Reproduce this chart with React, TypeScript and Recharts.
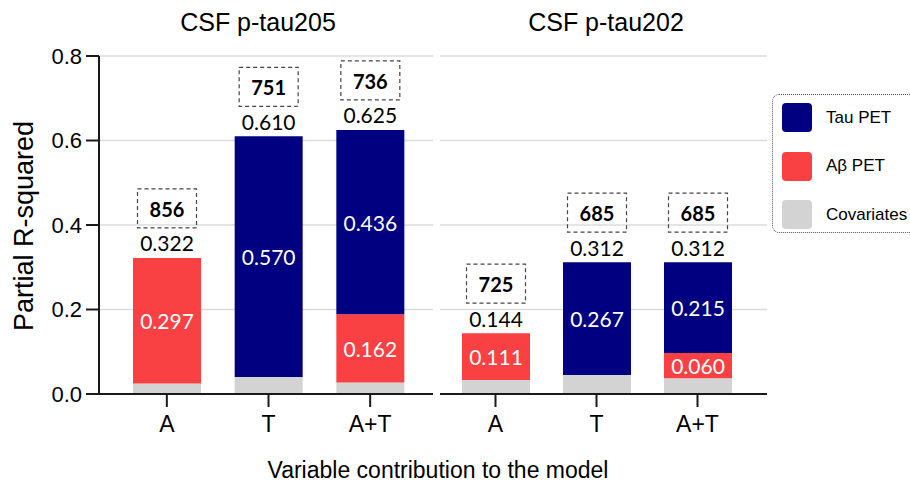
import React from "react";
import { BarChart, Bar, XAxis, YAxis, CartesianGrid, LabelList, Cell } from "recharts";

const categories = ["A", "T", "A+T"];

// CSF p-tau205 panel
const tau205Covariates = [0.025, 0.04, 0.027];
const tau205Abeta = [0.297, 0, 0.162];
const tau205Tau = [0, 0.57, 0.436];
const tau205Total = [0.322, 0.61, 0.625];
const tau205N = [856, 751, 736];

// CSF p-tau202 panel
const tau202Covariates = [0.033, 0.045, 0.037];
const tau202Abeta = [0.111, 0, 0.06];
const tau202Tau = [0, 0.267, 0.215];
const tau202Total = [0.144, 0.312, 0.312];
const tau202N = [725, 685, 685];

const yTicks = [0, 0.2, 0.4, 0.6, 0.8];

const NAVY = "#000080";
const RED = "#f94144";
const GRAY = "#d3d3d3";
const GRID = "#dcdcdc";
const AXIS = "#1a1a1a";
const SANS = "'Liberation Sans', Arial, sans-serif";
const VALUE_FONT = "Lato, 'Open Sans', sans-serif";

const buildRows = (cov: number[], ab: number[], tau: number[], tot: number[], n: number[]) =>
  categories.map((name, i) => ({
    name,
    cov: cov[i],
    abeta: ab[i],
    tau: tau[i],
    total: tot[i],
    n: n[i],
  }));

const rows205 = buildRows(tau205Covariates, tau205Abeta, tau205Tau, tau205Total, tau205N);
const rows202 = buildRows(tau202Covariates, tau202Abeta, tau202Tau, tau202Total, tau202N);

const InnerLabel = (props: any) => {
  const { x, y, width, height, value } = props;
  if (!value) return null;
  return (
    <text
      x={x + width / 2}
      y={y + height / 2}
      textAnchor="middle"
      dominantBaseline="central"
      fill="#fff"
      fontSize={21}
      fontFamily={VALUE_FONT}
    >
      {Number(value).toFixed(3)}
    </text>
  );
};

// sits on top of the stack (the tau segment, which is 1px when empty)
const TotalLabel = (props: any) => {
  const { x, y, width, height, value } = props;
  const top = height < 2 ? y + height : y;
  return (
    <text
      x={x + width / 2}
      y={top - 15}
      textAnchor="middle"
      dominantBaseline="central"
      fill="#000"
      fontSize={21}
      fontFamily={VALUE_FONT}
    >
      {Number(value).toFixed(3)}
    </text>
  );
};

const BoxLabel = (props: any) => {
  const { x, y, width, height, value } = props;
  const top = height < 2 ? y + height : y;
  const cx = x + width / 2;
  return (
    <g>
      <rect
        x={cx - 29.5}
        y={top - 69}
        width={59}
        height={39}
        fill="none"
        stroke="#444"
        strokeWidth={1.2}
        strokeDasharray="4 3"
      />
      <text
        x={cx}
        y={top - 49}
        textAnchor="middle"
        dominantBaseline="central"
        fill="#000"
        fontSize={20}
        fontWeight="bold"
        fontFamily={VALUE_FONT}
      >
        {value}
      </text>
    </g>
  );
};

const YLabel = (props: any) => {
  const { viewBox } = props;
  const cx = (viewBox?.x ?? 0) + 33;
  const cy = 226;
  return (
    <text
      x={cx}
      y={cy}
      transform={`rotate(-90 ${cx} ${cy})`}
      textAnchor="middle"
      fontSize={27}
      fontFamily={SANS}
      fill="#000"
    >
      Partial R-squared
    </text>
  );
};

function Panel({ rows, width, showY, padding }: any) {
  return (
    <BarChart
      width={width}
      height={484}
      data={rows}
      margin={{ top: 56, right: 0, left: 0, bottom: 60 }}
      barSize={68}
    >
      <CartesianGrid vertical={false} stroke={GRID} strokeWidth={1.5} />
      <XAxis
        dataKey="name"
        height={30}
        padding={padding}
        stroke={AXIS}
        strokeWidth={2}
        tickSize={13}
        tickMargin={9}
        tick={{ fill: "#000", fontSize: 23, fontFamily: SANS }}
        interval={0}
      />
      <YAxis
        hide={!showY}
        width={showY ? 99 : 0}
        domain={[0, 0.8]}
        ticks={yTicks}
        tickFormatter={(v: number) => v.toFixed(1)}
        stroke={AXIS}
        strokeWidth={2}
        tickSize={13}
        tickMargin={4}
        tick={{ fill: "#000", fontSize: 22, fontFamily: SANS }}
        label={showY ? { content: <YLabel /> } : undefined}
      />
      <Bar dataKey="cov" stackId="s" fill={GRAY} isAnimationActive={false} />
      <Bar dataKey="abeta" stackId="s" fill={RED} isAnimationActive={false}>
        <LabelList dataKey="abeta" content={<InnerLabel />} />
      </Bar>
      <Bar dataKey="tau" stackId="s" fill={NAVY} minPointSize={1} isAnimationActive={false}>
        {rows.map((r: any) => (
          <Cell key={r.name} fill={r.tau ? NAVY : "transparent"} />
        ))}
        <LabelList dataKey="tau" content={<InnerLabel />} />
        <LabelList dataKey="total" content={<TotalLabel />} />
        <LabelList dataKey="n" content={<BoxLabel />} />
      </Bar>
    </BarChart>
  );
}

const legendItems = [
  { label: "Tau PET", color: NAVY },
  { label: "A\u03b2 PET", color: RED },
  { label: "Covariates", color: GRAY },
];

const titleStyle: React.CSSProperties = {
  position: "absolute",
  width: 260,
  top: 7,
  textAlign: "center",
  fontFamily: SANS,
  fontSize: 25,
  lineHeight: "30px",
  color: "#000",
};

export default function App() {
  return (
    <div
      style={{
        position: "absolute",
        left: 0,
        top: 0,
        width: 910,
        height: 484,
        background: "#fff",
        overflow: "hidden",
      }}
    >
      <div style={{ position: "absolute", left: 0, top: 0 }}>
        <Panel rows={rows205} width={433} showY padding={{ left: 17, right: 12 }} />
      </div>
      <div style={{ position: "absolute", left: 440, top: 0 }}>
        <Panel rows={rows202} width={327} showY={false} padding={{ left: 5, right: 19 }} />
      </div>
      <div style={{ ...titleStyle, left: 128 }}>CSF p-tau205</div>
      <div style={{ ...titleStyle, left: 476 }}>CSF p-tau202</div>
      <div
        style={{
          position: "absolute",
          left: 138,
          width: 600,
          top: 457,
          textAlign: "center",
          fontFamily: SANS,
          fontSize: 23,
          lineHeight: "26px",
          whiteSpace: "nowrap",
        }}
      >
        Variable contribution to the model
      </div>
      <div
        style={{
          position: "absolute",
          left: 772,
          top: 94,
          width: 150,
          height: 139,
          border: "1px dotted #555",
          borderRadius: 7,
          boxSizing: "border-box",
        }}
      >
        {legendItems.map((item, i) => (
          <div
            key={item.label}
            style={{
              position: "absolute",
              left: 9,
              top: 8 + i * 48.5,
              display: "flex",
              alignItems: "center",
            }}
          >
            <div
              style={{
                width: 30,
                height: 29,
                borderRadius: 4,
                background: item.color,
              }}
            />
            <span
              style={{
                marginLeft: 14,
                fontFamily: SANS,
                fontSize: 17,
                color: "#000",
                whiteSpace: "nowrap",
              }}
            >
              {item.label}
            </span>
          </div>
        ))}
      </div>
    </div>
  );
}
